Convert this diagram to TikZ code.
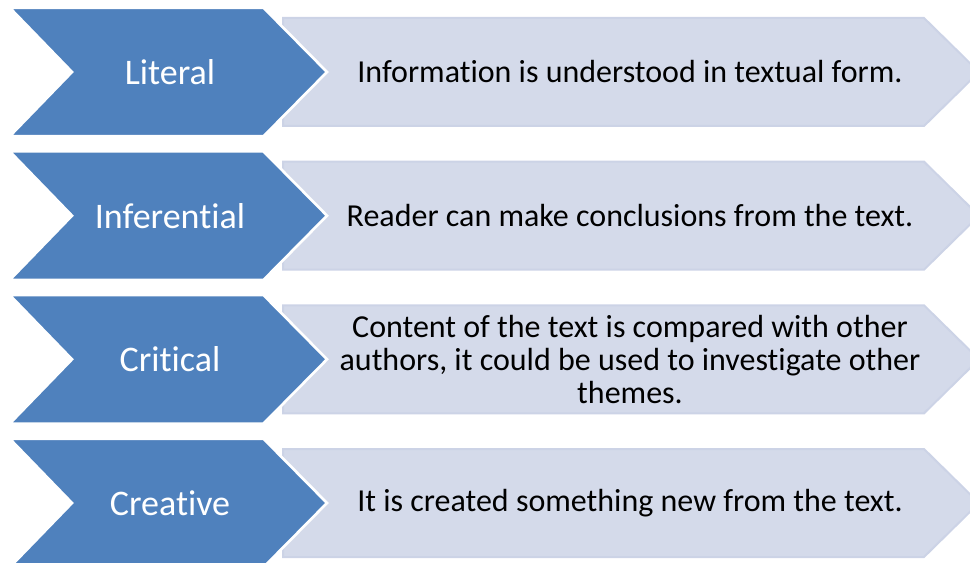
\documentclass[tikz,border=0pt]{standalone}
\usepackage{fontspec}
\setmainfont{Carlito}[RawFeature={-liga;-clig;-calt;-dlig;-rlig}]
\definecolor{chev}{RGB}{79,129,189}
\definecolor{boxfill}{RGB}{212,218,234}
\definecolor{boxline}{RGB}{204,211,230}
\newcommand\tinolig{t\kern0pt i}
\newcommand\diagrow[4]{%
  \begin{scope}[shift={(0,#1)}]
    \filldraw[boxshape] (283,18) -- (924,18) -- (979,72) -- (924,126) -- (283,126) -- cycle;
    \filldraw[chevshape] (9.7,7.7) -- (263.5,7.7) -- (327,72) -- (263.5,136.3) -- (9.7,136.3) -- (72,72) -- cycle;
    \node[lefttext] (#2a) at (170,72) {#3};
    \node[righttext] (#2b) at (630,72) {#4};
  \end{scope}}
\begin{document}
\begin{tikzpicture}[x=0.75pt,y=-0.75pt,
  boxshape/.style={fill=boxfill,draw=boxline,line width=1.5pt,line join=miter},
  chevshape/.style={fill=chev,draw=white,line width=2pt,line join=miter},
  lefttext/.style={text=white,font=\fontsize{27}{32}\selectfont,align=center,inner sep=0pt},
  righttext/.style={text=black,font=\fontsize{24}{24.75}\selectfont,align=center,inner sep=0pt}]
  \useasboundingbox (0,0) rectangle (970,563);
  \clip (0,0) rectangle (970,563);
  \diagrow{0}{lit}{Literal}{Informa\tinolig on is understood in textual form.}
  \diagrow{143.67}{inf}{Inferen\tinolig al}{Reader can make conclusions from the text.}
  \diagrow{287.33}{cri}{Cri\tinolig cal}{Content of the text is compared with other\\authors, it could be used to inves\tinolig gate other\\themes.}
  \diagrow{431}{cre}{Crea\tinolig ve}{It is created something new from the text.}
\end{tikzpicture}
\end{document}
